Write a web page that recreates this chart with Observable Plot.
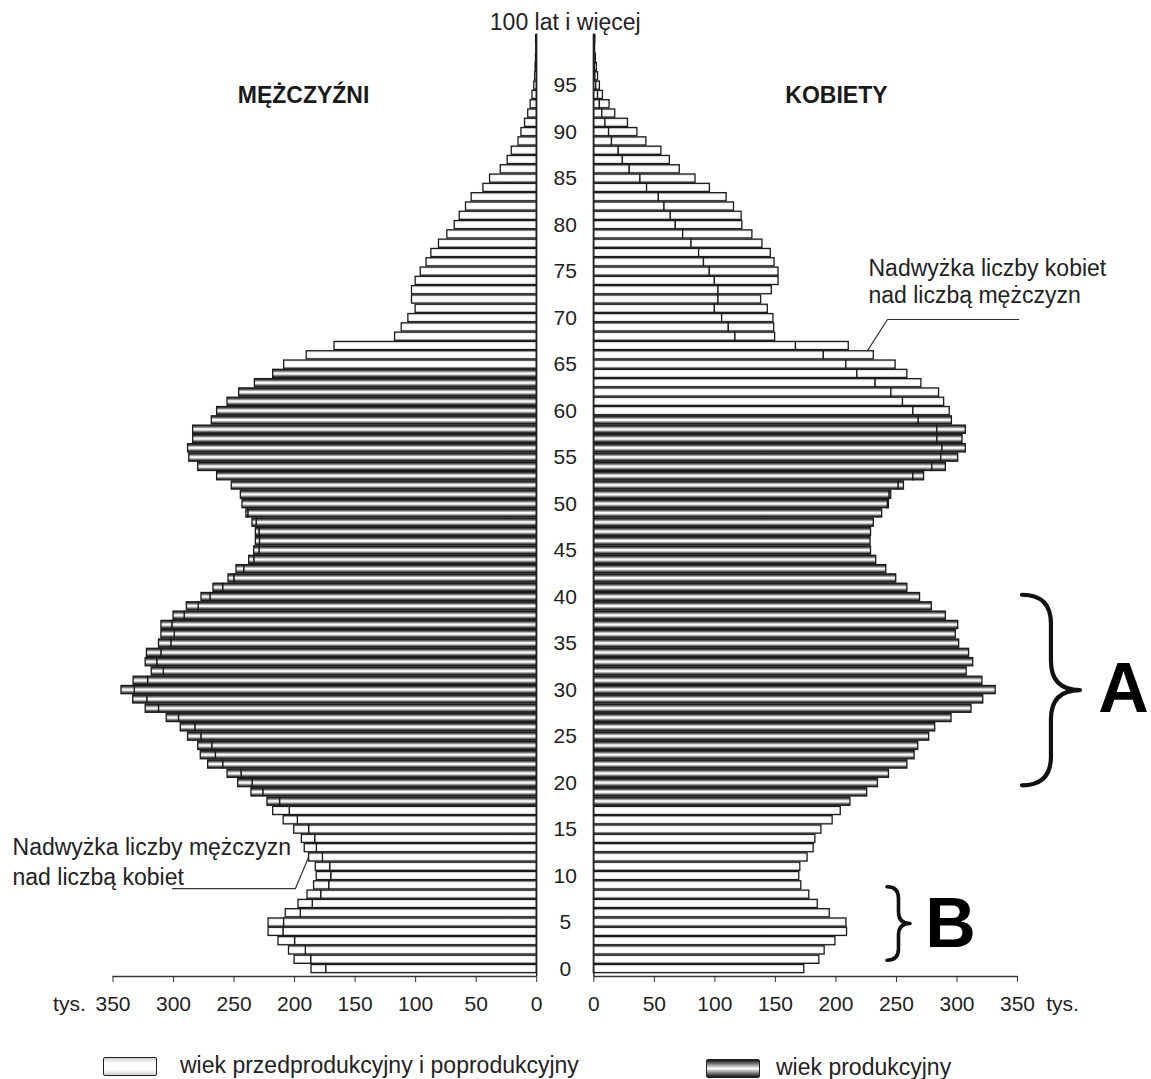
<!DOCTYPE html>
<html>
<head>
<meta charset="utf-8">
<script src="https://cdn.jsdelivr.net/npm/d3@7"></script>
<script src="https://cdn.jsdelivr.net/npm/@observablehq/plot@0.6"></script>
<style>
  html, body { margin: 0; padding: 0; background: #fff; }
  body { font-family: "Liberation Sans", Arial, sans-serif; color: #222; }
  #wrap { position: relative; width: 1151px; }
  #legend { position: relative; width: 1151px; height: 34px; }
  #legend .sw { position: absolute; width: 52px; height: 17px; border: 1.5px solid #222; border-radius: 2px; }
  #legend .lb { position: absolute; font-size: 23px; line-height: 23px; white-space: nowrap; color: #222; }
</style>
</head>
<body>
<div id="wrap">
  <div id="chart"></div>
  <div id="legend">
    <div class="sw" style="left:103px;top:12px;background:linear-gradient(#cfcfcf,#fff 30%,#fff 70%,#cfcfcf);"></div>
    <div class="lb" style="left:180px;top:9px;">wiek przedprodukcyjny i poprodukcyjny</div>
    <div class="sw" style="left:706px;top:14px;background:linear-gradient(#111,#777 22%,#fff 50%,#777 78%,#111);"></div>
    <div class="lb" style="left:776px;top:11px;">wiek produkcyjny</div>
  </div>
</div>
<script>
// ---- data (thousands of people by single year of age, 0 … 100+) ----
const ages = d3.range(0, 101);
const men = [
  186, 200, 204.6, 213.3, 221.5, 221.5, 207.3, 196.8, 189.3, 183.9,
  181.7, 182.5, 188, 191.6, 194, 200.3, 209, 217.7, 222.4, 235.6,
  246.6, 255.4, 271.4, 277.5, 279.6, 288, 294, 305.6, 323, 333.3,
  343, 333, 318, 323, 322, 312, 310, 310, 300, 289,
  276.9, 267, 254.6, 248, 237.5, 233.4, 232, 232, 234.8, 239.8,
  243, 244.4, 251.9, 264, 279.6, 287, 288, 283.8, 283.8, 268.4,
  264, 255.4, 245.8, 232.8, 217.7, 208.6, 190, 167, 117, 111.5,
  106, 100, 103, 103, 100, 95.8, 91, 87, 80.7, 73.8,
  67.7, 63.6, 58.4, 53.7, 44, 38.5, 29.7, 24, 20.6, 15,
  12.6, 9.6, 7, 5, 3.5, 2, 1.3, 0.9, 0.6, 0.4,
  0.5
];
const women = [
  173.9, 186.3, 190.7, 199.6, 209.2, 208.7, 194.9, 185, 178, 171.4,
  169.7, 170.6, 176.6, 181.6, 183, 188, 197.3, 204, 212, 225.8,
  234.7, 243.8, 259, 265, 268, 277, 282, 295.5, 312, 321.7,
  332, 321, 308, 313.4, 310, 301.8, 299, 301, 290.8, 279.2,
  269.5, 259, 249.8, 241.6, 233.3, 229, 228.6, 229, 231.3, 238.2,
  243.8, 245.7, 256.2, 272.8, 290.8, 301, 307.3, 304.6, 307.3, 295.8,
  294, 289.4, 285.2, 270.6, 259, 249.3, 231.3, 210.6, 149.8, 149,
  148.4, 143.7, 138.2, 147, 152.6, 152.6, 149.3, 146.2, 139.3, 131,
  122.7, 122.1, 115.8, 109.7, 95.9, 84, 71, 62.8, 55.8, 43.4,
  36, 28.2, 17.7, 13, 7.5, 5, 3.5, 2.5, 1.7, 1.1,
  1.3
];
const productiveMen = [18, 64];
const productiveWomen = [18, 59];
const ageLabels = [0, 5, 10, 15, 20, 25, 30, 35, 40, 45, 50, 55, 60, 65, 70, 75, 80, 85, 90, 95];
const topAgeLabel = "100 lat i więcej";
const valueTicks = [0, 50, 100, 150, 200, 250, 300, 350];
const unitLabel = "tys.";
const sideTitles = ["MĘŻCZYŹNI", "KOBIETY"];
const noteWomen = "Nadwyżka liczby kobiet\nnad liczbą mężczyzn";
const noteMen = "Nadwyżka liczby mężczyzn\nnad liczbą kobiet";

// ---- layout helpers (half-gap between the two halves, in thousands) ----
const G = 23.6;
const M = v => -(G + v);   // men side position
const W = v => G + v;      // women side position

// ---- build bar segments: common part + surplus box ----
const segs = [];
ages.forEach((a, i) => {
  const m = men[i], w = women[i], c = Math.min(m, w);
  const pm = a >= productiveMen[0] && a <= productiveMen[1];
  const pw = a >= productiveWomen[0] && a <= productiveWomen[1];
  segs.push({age: a, x1: M(0), x2: M(c), prod: pm});
  if (m > w) segs.push({age: a, x1: M(w), x2: M(m), prod: pm});
  segs.push({age: a, x1: W(0), x2: W(c), prod: pw});
  if (w > m) segs.push({age: a, x1: W(m), x2: W(w), prod: pw});
});

const rectOpts = {
  x1: "x1", x2: "x2",
  y1: d => d.age - 0.5, y2: d => d.age + 0.5,
  insetTop: 0.55, insetBottom: 0.55,
  stroke: "#1b1b1b", strokeWidth: 1.3
};

// annotation geometry (positions in value / age units)
const leaderWomen = [{x: W(351.1), y: 69.85}, {x: W(242.6), y: 69.85}, {x: W(226.1), y: 66.5}];
const leaderMen = [{x: M(300.9), y: 8.66}, {x: M(199.3), y: 8.66}, {x: M(188.5), y: 12.0}];
const braces = [
  {letter: "A", ageFrom: 19.7, ageTo: 40.2, value: 354.1, width: 58, sw: 4.2, letterValue: 437.6, letterAge: 30.0},
  {letter: "B", ageFrom: 0.9, ageTo: 8.8, value: 242.6, width: 23, sw: 3.6, letterValue: 294.7, letterAge: 4.8}
];

const braceMark = (index, scales) => {
  const ns = "http://www.w3.org/2000/svg";
  const g = document.createElementNS(ns, "g");
  for (const b of braces) {
    const x0 = scales.x(W(b.value));
    const y1 = scales.y(b.ageTo), y2 = scales.y(b.ageFrom);
    const w = b.width, xm = x0 + w / 2, xt = x0 + w, ym = (y1 + y2) / 2;
    const r = Math.min(w / 2, (y2 - y1) / 4);
    const p = document.createElementNS(ns, "path");
    p.setAttribute("d",
      `M${x0},${y1} Q${xm},${y1} ${xm},${y1 + r} L${xm},${ym - r} Q${xm},${ym} ${xt},${ym}` +
      ` Q${xm},${ym} ${xm},${ym + r} L${xm},${y2 - r} Q${xm},${y2} ${x0},${y2}`);
    p.setAttribute("fill", "none");
    p.setAttribute("stroke", "#111");
    p.setAttribute("stroke-width", b.sw);
    p.setAttribute("stroke-linejoin", "round");
    p.setAttribute("stroke-linecap", "round");
    g.appendChild(p);
  }
  return g;
};

const svg = Plot.plot({
  width: 1151,
  height: 1045,
  marginLeft: 112.5,
  marginRight: 134,
  marginTop: 34,
  marginBottom: 69,
  style: {fontFamily: "'Liberation Sans', Arial, sans-serif", fontSize: "21px", color: "#222", background: "#fff"},
  x: {domain: [M(350), W(350)]},
  y: {domain: [-0.8, 100.5], axis: null},
  marks: [
    Plot.rect(segs.filter(d => !d.prod), {...rectOpts, fill: "url(#gradWhite)"}),
    Plot.rect(segs.filter(d => d.prod), {...rectOpts, fill: "url(#gradProd)"}),
    // zero lines
    Plot.ruleX([M(0), W(0)], {y1: -0.8, y2: 100.55, stroke: "#222", strokeWidth: 1.4}),
    // baselines
    Plot.ruleY([-0.8], {x1: M(350), x2: M(0), stroke: "#333", strokeWidth: 1.3}),
    Plot.ruleY([-0.8], {x1: W(0), x2: W(350), stroke: "#333", strokeWidth: 1.3}),
    Plot.axisX([...valueTicks.map(M), ...valueTicks.map(W)], {
      tickSize: 6, tickPadding: 14, fontSize: 21, stroke: "#333",
      tickFormat: d => String(Math.round(Math.abs(d) - G))
    }),
    Plot.axisX([M(386), W(387.2)], {tickSize: 0, tickPadding: 20, fontSize: 21, tickFormat: () => unitLabel}),
    // age labels
    Plot.text(ageLabels, {x: 0, y: d => d, text: d => String(d), fontSize: 21, fill: "#222"}),
    Plot.text([topAgeLabel], {x: 0, y: 101.8, text: d => d, fontSize: 23, fill: "#222"}),
    // side titles
    Plot.text([sideTitles[0]], {x: M(192.6), y: 93.9, text: d => d, fontSize: 23, fontWeight: "bold", fill: "#1a1a1a"}),
    Plot.text([sideTitles[1]], {x: W(200.4), y: 93.9, text: d => d, fontSize: 23, fontWeight: "bold", fill: "#1a1a1a"}),
    // annotations
    Plot.text([noteWomen], {x: W(226.9), y: 74.0, text: d => d, textAnchor: "start", lineAnchor: "middle", lineHeight: 1.17, fontSize: 23, fill: "#222"}),
    Plot.line(leaderWomen, {x: "x", y: "y", stroke: "#333", strokeWidth: 1.2}),
    Plot.text([noteMen], {x: M(433), y: 11.67, text: d => d, textAnchor: "start", lineAnchor: "middle", lineHeight: 1.3, fontSize: 23, fill: "#222"}),
    Plot.line(leaderMen, {x: "x", y: "y", stroke: "#333", strokeWidth: 1.2}),
    // braces and letters
    braceMark,
    Plot.text(braces, {x: d => W(d.letterValue), y: "letterAge", text: "letter", fontSize: 70, fontWeight: "bold", fill: "#000"})
  ]
});

// gradients used by the bars
const defs = d3.select(svg).insert("defs", ":first-child");
const gp = defs.append("linearGradient").attr("id", "gradProd").attr("x1", 0).attr("y1", 0).attr("x2", 0).attr("y2", 1);
[[0, "#111"], [0.22, "#6a6a6a"], [0.45, "#fdfdfd"], [0.58, "#f2f2f2"], [0.8, "#6a6a6a"], [1, "#111"]]
  .forEach(([o, c]) => gp.append("stop").attr("offset", o).attr("stop-color", c));
const gw = defs.append("linearGradient").attr("id", "gradWhite").attr("x1", 0).attr("y1", 0).attr("x2", 0).attr("y2", 1);
[[0, "#d6d6d6"], [0.3, "#ffffff"], [0.7, "#ffffff"], [1, "#d6d6d6"]]
  .forEach(([o, c]) => gw.append("stop").attr("offset", o).attr("stop-color", c));

document.getElementById("chart").appendChild(svg);
</script>
</body>
</html>
